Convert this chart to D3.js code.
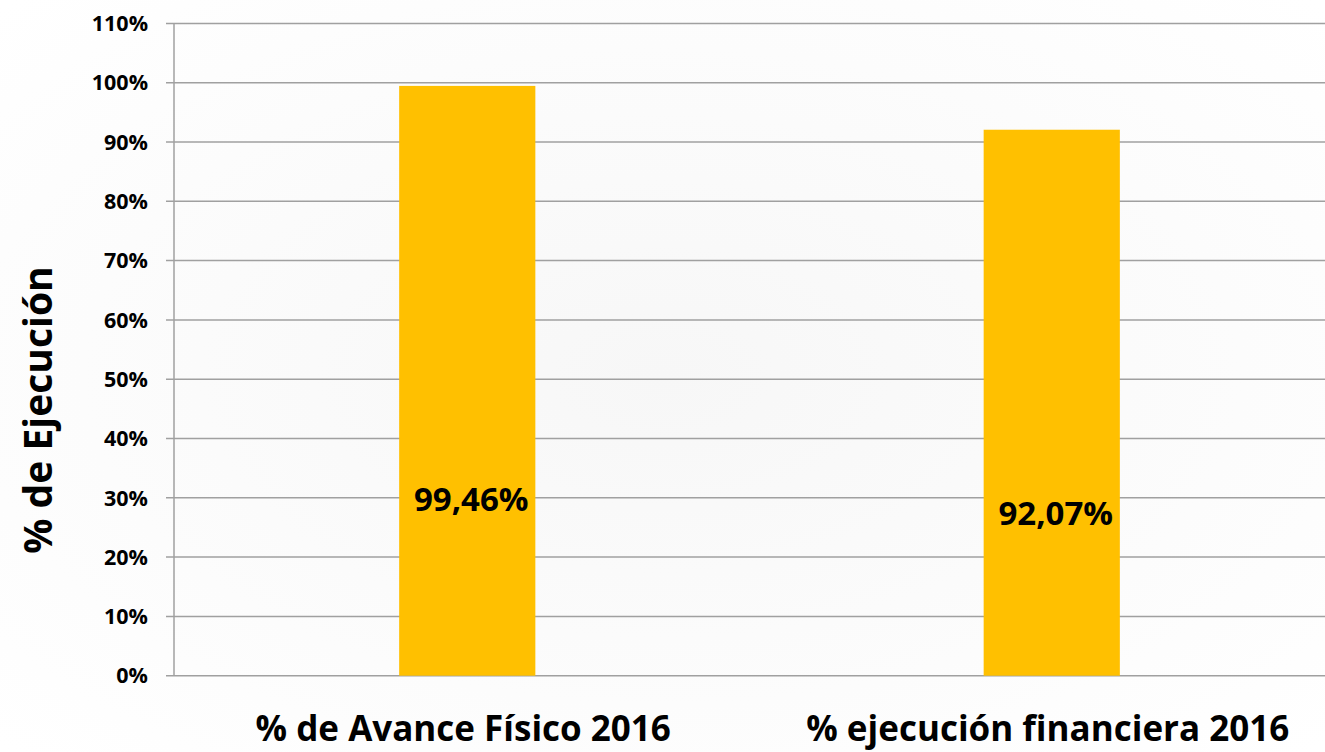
<!DOCTYPE html>
<html><head><meta charset="utf-8">
<script src="https://cdn.jsdelivr.net/npm/d3@7"></script>
<style>html,body{margin:0;padding:0;background:#fff;}svg{display:block;}</style>
</head><body>
<script>
const categories = ["% de Avance Físico 2016", "% ejecución financiera 2016"];
const values = [0.9946, 0.9207];
const valueLabels = ["99,46%", "92,07%"];
const yTicks = [0,0.1,0.2,0.3,0.4,0.5,0.6,0.7,0.8,0.9,1.0,1.1];
const yTitle = "% de Ejecución";

const W = 1325, H = 752;
const font = "'Open Sans', sans-serif";
const svg = d3.select("body").append("svg").attr("width", W).attr("height", H);

const defs = svg.append("defs");
const rg = defs.append("radialGradient").attr("id","bg").attr("cx","50%").attr("cy","50%").attr("r","70%");
rg.append("stop").attr("offset","0%").attr("stop-color","#f7f7f7");
rg.append("stop").attr("offset","100%").attr("stop-color","#ffffff");
svg.append("rect").attr("width",W).attr("height",H).attr("fill","url(#bg)");

const m = {left:174, right:1344, top:23.4, bottom:675.7};
const y = d3.scaleLinear().domain([0,1.1]).range([m.bottom, m.top]);
const x = d3.scaleBand().domain(categories).range([m.left+1, m.right]).padding(0);
const barW = x.bandwidth()*0.233;

// grid
svg.append("g").selectAll("line").data(yTicks).join("line")
  .attr("x1", m.left-8).attr("x2", W).attr("y1", d=>y(d)).attr("y2", d=>y(d))
  .attr("stroke","#a0a0a0").attr("stroke-width",1.5);

// y axis labels
svg.append("g").selectAll("text").data(yTicks).join("text")
  .attr("x", 148).attr("y", d=>y(d)).attr("dy","0.36em")
  .attr("text-anchor","end").attr("font-family",font).attr("font-weight","bold")
  .attr("font-size",21.5).attr("fill","#000").text(d=>d3.format(".0%")(d));

// bars
svg.append("g").selectAll("rect").data(values).join("rect")
  .attr("x",(d,i)=>x(categories[i])+x.bandwidth()/2-barW/2)
  .attr("width",barW).attr("y",d=>y(d)).attr("height",d=>y(0)-y(d))
  .attr("fill","#FFC000");

// axis line
svg.append("line").attr("x1",m.left).attr("x2",m.left).attr("y1",m.top).attr("y2",m.bottom)
  .attr("stroke","#a0a0a0").attr("stroke-width",1.5);

// value labels
const labelFrac = [0.298, 0.274];
svg.append("g").selectAll("text").data(values).join("text")
  .attr("x",(d,i)=>x(categories[i])+x.bandwidth()/2+4)
  .attr("y",(d,i)=>y(labelFrac[i])).attr("dy","0.36em")
  .attr("text-anchor","middle").attr("font-family",font).attr("font-weight","bold")
  .attr("font-size",33).attr("fill","#000").text((d,i)=>valueLabels[i]);

// category labels
svg.append("g").selectAll("text").data(categories).join("text")
  .attr("x",d=>x(d)+x.bandwidth()/2-4).attr("y",741)
  .attr("text-anchor","middle").attr("font-family",font).attr("font-weight","bold")
  .attr("font-size",35).attr("fill","#000").text(d=>d);

// y title
svg.append("text").attr("transform","translate(52,410) rotate(-90)")
  .attr("text-anchor","middle").attr("font-family",font).attr("font-weight","bold")
  .attr("font-size",39).attr("fill","#000").text(yTitle);
</script>
</body></html>
